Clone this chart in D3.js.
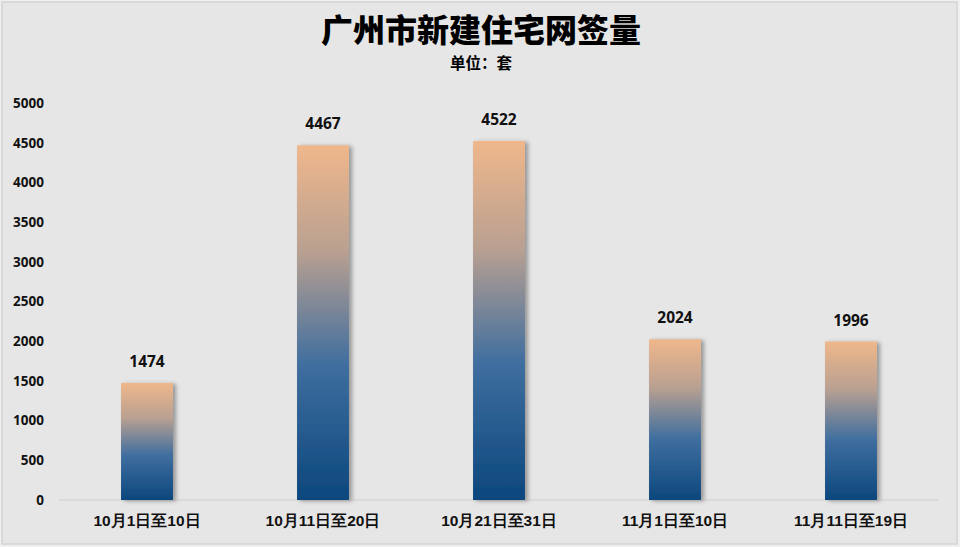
<!DOCTYPE html>
<html><head><meta charset="utf-8">
<script src="https://cdn.jsdelivr.net/npm/d3@7"></script>
<style>
html,body{margin:0;padding:0;background:#efefef;}
svg{display:block;font-family:"Noto Sans CJK SC","Noto Sans",sans-serif;}
</style></head>
<body>
<svg id="c" width="960" height="547"></svg>
<script>
const categories = ["10月1日至10日","10月11日至20日","10月21日至31日","11月1日至10日","11月11日至19日"];
const values = [1474, 4467, 4522, 2024, 1996];
const yTicks = [0,500,1000,1500,2000,2500,3000,3500,4000,4500,5000];
const title = "广州市新建住宅网签量";
const subtitle = "单位：套";

const svg = d3.select("#c");
const W = 960, H = 547;
const m = {left:59, right:21, top:103, bottom:47};

svg.append("rect").attr("x",2).attr("y",2).attr("width",W-5).attr("height",H-5)
  .attr("fill","#e6e6e6").attr("stroke","#d4d4d4").attr("stroke-width",1.5);

const defs = svg.append("defs");
const g = defs.append("linearGradient").attr("id","bg").attr("x1",0).attr("y1",0).attr("x2",0).attr("y2",1);
g.append("stop").attr("offset","0%").attr("stop-color","#efb78b");
g.append("stop").attr("offset","30%").attr("stop-color","#b9a091");
g.append("stop").attr("offset","62%").attr("stop-color","#3f6e9f");
g.append("stop").attr("offset","100%").attr("stop-color","#0c477d");
const f = defs.append("filter").attr("id","sh").attr("x","-20%").attr("y","-5%").attr("width","150%").attr("height","115%");
f.append("feDropShadow").attr("dx",3).attr("dy",1).attr("stdDeviation",2).attr("flood-color","#000").attr("flood-opacity",0.35);

const x = d3.scaleBand().domain(categories).range([m.left, W-m.right]).paddingInner(0.705).paddingOuter(0.3525);
const y = d3.scaleLinear().domain([0,5000]).range([H-m.bottom, m.top]);

// title
svg.append("text").attr("x",481).attr("y",42).attr("text-anchor","middle")
  .attr("font-size",32).attr("font-weight",900).attr("fill","#000").text(title);
svg.append("text").attr("x",481).attr("y",69).attr("text-anchor","middle")
  .attr("font-size",15.5).attr("font-weight",700).attr("fill","#000").text(subtitle);

// y axis
const ya = svg.append("g").attr("transform",`translate(${m.left-12},0)`)
  .call(d3.axisLeft(y).tickValues(yTicks).tickSize(0).tickFormat(d3.format("d")));
ya.select(".domain").remove();
ya.selectAll("text").attr("font-size",13.5).attr("font-weight",700).attr("fill","#111")
  .attr("font-family","'Noto Sans',sans-serif");

// x axis
const xa = svg.append("g").attr("transform",`translate(0,${H-m.bottom})`)
  .call(d3.axisBottom(x).tickSize(0).tickPadding(15));
xa.select(".domain").attr("stroke","#d6d6d6").attr("stroke-width",1.5)
  .attr("d",`M${m.left},0H${W-m.right}`);
xa.selectAll("text").attr("font-size",15.5).attr("font-weight",700).attr("fill","#111");

// bars
svg.append("g").selectAll("rect").data(values).join("rect")
  .attr("x",(d,i)=>x(categories[i])).attr("width",x.bandwidth())
  .attr("y",d=>y(d)).attr("height",d=>y(0)-y(d))
  .attr("fill","url(#bg)").attr("filter","url(#sh)");

svg.append("g").selectAll("text").data(values).join("text")
  .attr("x",(d,i)=>x(categories[i])+x.bandwidth()/2).attr("y",d=>y(d)-16)
  .attr("text-anchor","middle").attr("font-size",15.5).attr("font-weight",700)
  .attr("font-family","'Noto Sans',sans-serif").attr("fill","#111").text(d=>d);
</script>
</body></html>
